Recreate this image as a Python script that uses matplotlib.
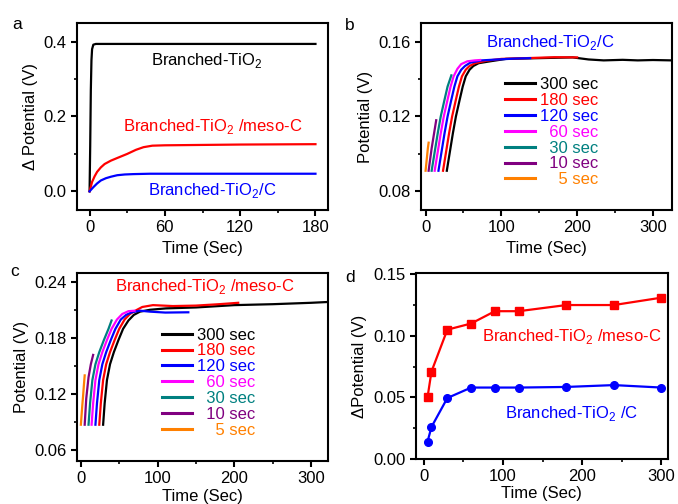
import numpy as np
import matplotlib
matplotlib.use("Agg")
import matplotlib.pyplot as plt
from matplotlib.ticker import MultipleLocator, FormatStrFormatter

plt.rcParams['font.family'] = ['Liberation Sans', 'DejaVu Sans']
plt.rcParams['mathtext.fontset'] = 'custom'
plt.rcParams['mathtext.rm'] = 'Liberation Sans'
plt.rcParams['axes.linewidth'] = 1.5

# ---- panel a: potential vs time ----
a_t_bt = [0, 0.5, 1, 1.5, 2, 3, 5, 20, 60, 120, 180]
a_v_bt = [0, 0.12, 0.27, 0.35, 0.38, 0.392, 0.394, 0.394, 0.394, 0.394, 0.394]
a_t_meso = [0, 2, 4, 6, 9, 12, 17, 22, 30, 37, 43, 50, 60, 90, 120, 180]
a_v_meso = [0, 0.025, 0.040, 0.052, 0.064, 0.073, 0.082, 0.089, 0.100, 0.111, 0.118, 0.122, 0.123, 0.124, 0.125, 0.126]
a_t_c = [0, 3, 6, 9, 13, 17, 22, 28, 35, 48, 60, 120, 180]
a_v_c = [0, 0.011, 0.021, 0.029, 0.035, 0.039, 0.043, 0.045, 0.046, 0.047, 0.047, 0.047, 0.047]

# ---- panel b: Branched-TiO2/C, different charging times ----
b_labels = ['300 sec', '180 sec', '120 sec', '\u200760 sec', '\u200730 sec', '\u200710 sec', '\u2007\u20075 sec']
b_t = [
    [28, 30, 32, 36, 40, 45, 49, 53, 58, 63, 70, 85, 106, 150, 194, 215, 235, 260, 280, 300, 325],
    [23, 25, 27, 31, 35, 40, 44, 48, 53, 58, 65, 80, 100, 140, 170, 200],
    [17, 19, 21, 25, 29, 34, 38, 42, 47, 52, 59, 74, 95, 120, 138],
    [12, 14, 16, 20, 24, 29, 33, 37, 42, 47, 55, 65, 72],
    [8, 10, 12, 16, 20, 25, 29, 34],
    [4, 6, 8, 10, 12, 14],
    [0, 1, 2, 3, 4],
]
b_v = [
    [0.091, 0.096, 0.101, 0.111, 0.120, 0.129, 0.136, 0.1415, 0.145, 0.147, 0.1485, 0.1495, 0.1508, 0.1512, 0.1516, 0.1505, 0.1500, 0.1503, 0.1500, 0.1502, 0.1500],
    [0.091, 0.096, 0.101, 0.111, 0.120, 0.129, 0.136, 0.1415, 0.145, 0.147, 0.1485, 0.1498, 0.1508, 0.1513, 0.1517, 0.1516],
    [0.091, 0.096, 0.101, 0.111, 0.120, 0.129, 0.136, 0.1415, 0.145, 0.147, 0.1488, 0.1500, 0.1505, 0.1510, 0.1512],
    [0.091, 0.096, 0.101, 0.111, 0.120, 0.129, 0.136, 0.1415, 0.1455, 0.148, 0.1495, 0.1500, 0.1502],
    [0.091, 0.096, 0.101, 0.111, 0.120, 0.129, 0.136, 0.142],
    [0.091, 0.097, 0.103, 0.108, 0.113, 0.118],
    [0.091, 0.095, 0.099, 0.103, 0.106],
]

# ---- panel c: Branched-TiO2/meso-C, different charging times ----
c_t = [
    [29, 31, 34, 38, 43, 49, 55, 62, 69, 77, 90, 111, 150, 200, 250, 300, 325],
    [24, 26, 29, 33, 38, 44, 50, 57, 64, 72, 80, 94, 120, 150, 180, 205],
    [19, 21, 24, 28, 33, 39, 45, 52, 59, 67, 77, 90, 110, 140],
    [14, 16, 19, 23, 28, 34, 40, 47, 54, 62, 70],
    [10, 12, 15, 19, 24, 30, 36, 40],
    [5, 7, 10, 13, 16],
    [0, 1, 2, 3, 4, 5],
]
c_v = [
    [0.087, 0.110, 0.135, 0.152, 0.165, 0.178, 0.190, 0.199, 0.205, 0.2085, 0.2105, 0.212, 0.213, 0.2155, 0.2165, 0.218, 0.219],
    [0.087, 0.110, 0.135, 0.152, 0.165, 0.178, 0.190, 0.200, 0.206, 0.210, 0.2135, 0.2155, 0.2145, 0.2150, 0.2165, 0.218],
    [0.087, 0.110, 0.135, 0.152, 0.165, 0.178, 0.190, 0.200, 0.205, 0.208, 0.2095, 0.2085, 0.2075, 0.2078],
    [0.087, 0.110, 0.135, 0.152, 0.165, 0.178, 0.190, 0.200, 0.206, 0.209, 0.2095],
    [0.087, 0.110, 0.135, 0.152, 0.165, 0.178, 0.190, 0.199],
    [0.087, 0.115, 0.138, 0.152, 0.162],
    [0.087, 0.098, 0.109, 0.119, 0.130, 0.140],
]
curve_colors = ['black', '#ff0000', '#0000ff', '#ff00ff', '#008080', '#800080', '#ff8000']

# ---- panel d: delta potential vs charging time ----
d_t = [5, 10, 30, 60, 90, 120, 180, 240, 300]
d_meso = [0.050, 0.071, 0.105, 0.110, 0.120, 0.120, 0.125, 0.125, 0.131]
d_c = [0.014, 0.026, 0.0495, 0.058, 0.058, 0.058, 0.0585, 0.060, 0.058]

FS = 12
TFS = 12
sub2 = r'$_\mathregular{2}$'

fig = plt.figure(figsize=(6.78, 5.04), dpi=100)
ax_a = fig.add_axes([0.1136, 0.5833, 0.3702, 0.3711])
ax_b = fig.add_axes([0.621, 0.5833, 0.370, 0.3711])
ax_c = fig.add_axes([0.1136, 0.0853, 0.3702, 0.373])
ax_d = fig.add_axes([0.613, 0.0893, 0.372, 0.369])


def style(ax, xmaj, xmin, ymaj, ymin, yfmt):
    ax.xaxis.set_major_locator(MultipleLocator(xmaj))
    ax.xaxis.set_minor_locator(MultipleLocator(xmin))
    ax.yaxis.set_major_locator(MultipleLocator(ymaj))
    ax.yaxis.set_minor_locator(MultipleLocator(ymin))
    ax.yaxis.set_major_formatter(FormatStrFormatter(yfmt))
    ax.tick_params(which='major', direction='out', length=4, width=1.5, labelsize=FS)
    ax.tick_params(which='minor', direction='out', length=2.2, width=1.2)
    ax.tick_params(top=False, right=False, which='both')


def legend(ax, x):
    leg = ax.legend(loc='upper left', bbox_to_anchor=(x, 0.71), frameon=False,
                    fontsize=TFS, handlelength=1.8, handletextpad=0.3,
                    labelspacing=0.05, borderpad=0, borderaxespad=0)
    for txt, col in zip(leg.get_texts(), curve_colors):
        txt.set_color(col)
    for ln in leg.get_lines():
        ln.set_linewidth(2.2)


# panel a
ax_a.plot(a_t_bt, a_v_bt, color='black', lw=1.6)
ax_a.plot(a_t_meso, a_v_meso, color='#ff0000', lw=1.6)
ax_a.plot(a_t_c, a_v_c, color='#0000ff', lw=1.6)
ax_a.set_xlim(-10, 190)
ax_a.set_ylim(-0.05, 0.45)
style(ax_a, 60, 30, 0.2, 0.1, '%.1f')
ax_a.set_xlabel('Time (Sec)', fontsize=FS)
ax_a.set_ylabel('\u0394 Potential (V)', fontsize=FS)
ax_a.text(0.518, 0.802, 'Branched-TiO' + sub2, transform=ax_a.transAxes,
          ha='center', va='center', fontsize=TFS, color='black')
ax_a.text(0.542, 0.449, 'Branched-TiO' + sub2 + ' /meso-C', transform=ax_a.transAxes,
          ha='center', va='center', fontsize=TFS, color='#ff0000')
ax_a.text(0.538, 0.107, 'Branched-TiO' + sub2 + '/C', transform=ax_a.transAxes,
          ha='center', va='center', fontsize=TFS, color='#0000ff')

# panel b
for t, v, col, lab in zip(b_t, b_v, curve_colors, b_labels):
    ax_b.plot(t, v, color=col, lw=1.6, label=lab)
ax_b.set_xlim(-6, 325)
ax_b.set_ylim(0.07, 0.17)
style(ax_b, 100, 50, 0.04, 0.02, '%.2f')
ax_b.set_xlabel('Time (Sec)', fontsize=FS)
ax_b.set_ylabel('Potential (V)', fontsize=FS)
ax_b.text(0.514, 0.898, 'Branched-TiO' + sub2 + '/C', transform=ax_b.transAxes,
          ha='center', va='center', fontsize=TFS, color='#0000ff')
legend(ax_b, 0.334)

# panel c
for t, v, col, lab in zip(c_t, c_v, curve_colors, b_labels):
    ax_c.plot(t, v, color=col, lw=1.6, label=lab)
ax_c.set_xlim(-5, 322)
ax_c.set_ylim(0.048, 0.25)
style(ax_c, 100, 50, 0.06, 0.03, '%.2f')
ax_c.set_xlabel('Time (Sec)', fontsize=FS, labelpad=1.5)
ax_c.set_ylabel('Potential (V)', fontsize=FS)
ax_c.text(0.51, 0.927, 'Branched-TiO' + sub2 + ' /meso-C', transform=ax_c.transAxes,
          ha='center', va='center', fontsize=TFS, color='#ff0000')
legend(ax_c, 0.338)

# panel d
ax_d.plot(d_t, d_meso, color='#ff0000', lw=1.6, marker='s', ms=5.5)
ax_d.plot(d_t, d_c, color='#0000ff', lw=1.6, marker='o', ms=5.5)
ax_d.set_xlim(-10, 308)
ax_d.set_ylim(0, 0.151)
style(ax_d, 100, 50, 0.05, 0.025, '%.2f')
ax_d.set_xlabel('Time (Sec)', fontsize=FS, labelpad=1.5)
ax_d.set_ylabel('\u0394Potential (V)', fontsize=FS)
ax_d.text(0.617, 0.661, 'Branched-TiO' + sub2 + ' /meso-C', transform=ax_d.transAxes,
          ha='center', va='center', fontsize=TFS, color='#ff0000')
ax_d.text(0.617, 0.242, 'Branched-TiO' + sub2 + ' /C', transform=ax_d.transAxes,
          ha='center', va='center', fontsize=TFS, color='#0000ff')

for lab, x, y in [('a', 0.025, 0.952), ('b', 0.516, 0.95), ('c', 0.022, 0.462), ('d', 0.516, 0.45)]:
    fig.text(x, y, lab, fontsize=12.5, ha='center', va='center')

fig.savefig('out.png', dpi=100)
